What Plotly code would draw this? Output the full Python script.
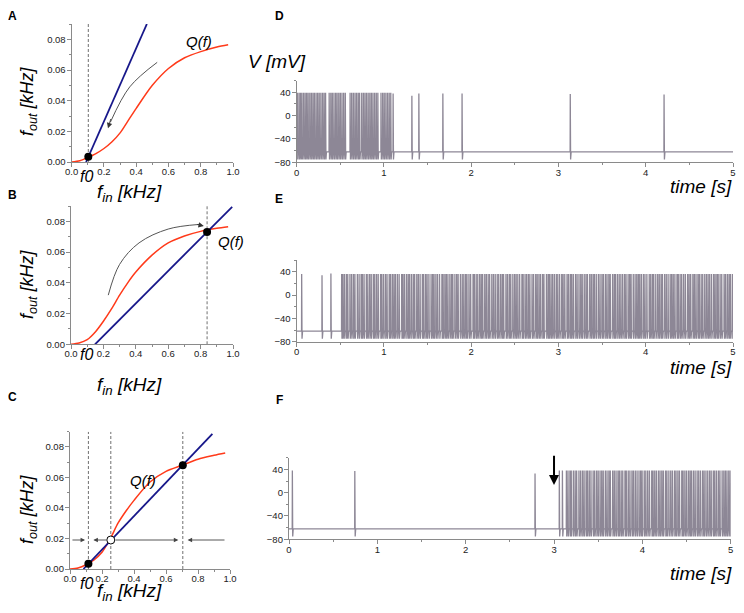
import numpy as np
import plotly.graph_objects as go

# ---- panels A-C : transfer curve Q(f) and the line f_out = k (f_in - f0)
f_in = [0.0, 0.05, 0.10, 0.15, 0.20, 0.25, 0.30, 0.35, 0.40, 0.50, 0.60, 0.70, 0.80, 0.90, 0.97]
q_a = [0.0, 0.0008, 0.003, 0.0055, 0.0088, 0.0132, 0.019, 0.027, 0.035, 0.050, 0.061, 0.068, 0.072, 0.075, 0.0765]
q_b = [0.0, 0.0008, 0.003, 0.008, 0.015, 0.023, 0.032, 0.040, 0.047, 0.058, 0.066, 0.0705, 0.0735, 0.0755, 0.0765]
q_c = [0.0, 0.0007, 0.0028, 0.006, 0.011, 0.0195, 0.030, 0.038, 0.045, 0.057, 0.064, 0.068, 0.072, 0.0745, 0.076]

line_a_x, line_a_y = [0.089, 0.466], [0.0, 0.09]
line_b_x, line_b_y = [0.148, 0.995], [0.0, 0.0895]
line_c_x, line_c_y = [0.084, 0.89], [0.0, 0.0885]

dash_a = [0.103]
dash_b = [0.84]
dash_c = [0.115, 0.255, 0.705]

stable_a_x, stable_a_y = [0.103], [0.0035]
stable_b_x, stable_b_y = [0.84], [0.073]
stable_c_x, stable_c_y = [0.115, 0.705], [0.0035, 0.068]
unstable_c_x, unstable_c_y = [0.255], [0.019]

# grey curved arrows (path points)
arrow_a_x, arrow_a_y = [0.53, 0.36, 0.24], [0.065, 0.049, 0.026]
arrow_b_x, arrow_b_y = [0.23, 0.30, 0.42, 0.60, 0.79], [0.032, 0.052, 0.066, 0.075, 0.078]

# ---- panels D-F : membrane potential traces (spike times in s)
v_rest, v_trough = -62, -75

d_burst = [0.008, 0.027, 0.044, 0.060, 0.079, 0.097, 0.114, 0.131, 0.150, 0.168,
           0.186, 0.203, 0.222, 0.240, 0.258, 0.277, 0.296, 0.314, 0.331,
           0.372, 0.391, 0.408, 0.427, 0.446, 0.463, 0.482, 0.500, 0.519, 0.538, 0.557,
           0.612, 0.630, 0.649, 0.668, 0.686, 0.705, 0.721,
           0.745, 0.764, 0.782, 0.800, 0.819, 0.838, 0.856, 0.874, 0.893, 0.912, 0.930,
           0.966, 0.985, 1.003, 1.022, 1.041, 1.060, 1.078]
d_burst_peak = 39
d_single = [1.105, 1.320, 1.400, 1.675, 1.895, 3.135, 4.210]
d_single_peak = [38, 34, 38, 38, 38, 37, 36]

e_single = [0.057, 0.290, 0.392]
e_single_peak = [36, 34, 37]
e_start = 0.515
e_dense_peak = 36
e_isi_ms = [14, 18, 22, 16, 25, 19, 21, 17, 28, 20,
            23, 15, 19, 26, 17, 21, 18, 24, 16, 21,
            19, 27, 14, 20, 22, 18, 25, 16, 21, 18,
            17, 22, 20, 29, 15, 18, 23, 19, 16, 21,
            21, 16, 24, 18, 20, 26, 15, 22, 17, 21,
            25, 18, 16, 21, 19, 23, 27, 14, 20, 17,
            18, 22, 19, 15, 24, 20, 17, 26, 21, 18,
            20, 16, 23, 19, 28, 15, 21, 18, 22, 18,
            16, 24, 18, 21, 17, 25, 19, 20, 23, 17,
            22, 19, 15, 27, 18, 21, 16, 24, 20, 18,
            19, 21, 26, 14, 22, 18, 20, 17, 25, 18,
            24, 17, 20, 18, 23, 16, 29, 19, 15, 19,
            18, 20, 22, 17, 21, 24, 16, 19, 26, 17,
            21, 15, 19, 25, 18, 22, 20, 17, 23, 20,
            17, 26, 18, 20, 16, 21, 24, 19, 22, 17,
            23, 18, 21, 16, 27, 19, 15, 22, 20, 19,
            20, 22, 17, 24, 18, 16, 25, 21, 19, 18,
            16, 19, 23, 18, 22, 27, 17, 20, 15, 23,
            22, 18, 20, 16, 25, 19, 21, 24, 17, 18,
            19, 24, 15, 21, 18, 22, 20, 26, 17, 18,
            25, 17, 19, 22, 16, 21, 18, 23, 20, 19,
            18, 21, 24, 17, 20, 15, 22, 19, 27, 17,
            21, 19, 16, 23, 18, 20, 24, 17, 22, 20]

f_single = [0.038, 0.745, 2.785]
f_single_peak = [38, 37, 33]
f_start = 3.06
f_dense_peak = 38
f_isi_ms = [35, 45,
            18, 22, 15, 24, 20, 17, 26, 19, 21, 18,
            23, 16, 20, 19, 25, 17, 22, 18, 21, 19,
            17, 24, 19, 21, 16, 27, 18, 20, 22, 16,
            20, 18, 25, 15, 22, 19, 23, 17, 21, 20,
            22, 19, 16, 24, 18, 21, 20, 26, 15, 19,
            19, 23, 18, 20, 17, 25, 16, 22, 21, 19,
            24, 17, 21, 18, 26, 15, 20, 19, 22, 18,
            16, 22, 19, 23, 18, 20, 24, 17, 21, 20,
            21, 18, 24, 16, 20, 22, 17, 25, 19, 18,
            18, 20, 17, 23, 21, 19, 26, 16, 22, 18]

# page body has an 8px margin; keep the figure inside the window (no scrollbars)
OFF = 8
W, H = 728, 597
FONT = 'Liberation Sans, Arial, sans-serif'
RED = '#ff3a1a'
BLUE = '#17178a'
TRACE = '#8d8796'
AXC = '#8a8a8a'


def px(x):
    return (x - OFF) / W


def py(y):
    return 1 - (y - OFF) / H


def build_trace(times, peaks):
    order = np.argsort(times)
    xs, ys = [0.0], [v_rest]
    for i in order:
        t = times[i]
        xs += [t - 0.0015, t, t + 0.004, t + 0.010]
        ys += [v_rest, peaks[i], v_trough, v_rest]
    xs.append(5.0)
    ys.append(v_rest)
    return xs, ys


def axis(domain, rng, dtick, minor, fmt, anchor, tick0=0, standoff=0):
    return dict(domain=domain, range=rng, anchor=anchor, showline=True,
                automargin=False, ticklabelstandoff=standoff, ticklabeloverflow='allow',
                linecolor=AXC, linewidth=1.3, ticks='outside', ticklen=4,
                tickcolor=AXC, tickwidth=1, tick0=tick0, dtick=dtick,
                tickformat=fmt, showgrid=False, zeroline=False,
                minor=dict(ticks='outside', ticklen=2, dtick=minor,
                           tick0=tick0, tickcolor=AXC, showgrid=False),
                tickfont=dict(size=9.5, color='#222', family=FONT))


fig = go.Figure()

# panels A-C
panels = [
    ('x', 'y', q_a, line_a_x, line_a_y, dash_a, stable_a_x, stable_a_y),
    ('x2', 'y2', q_b, line_b_x, line_b_y, dash_b, stable_b_x, stable_b_y),
    ('x3', 'y3', q_c, line_c_x, line_c_y, dash_c, stable_c_x, stable_c_y),
]
for xa, ya, q, lx, ly, dashes, sx, sy in panels:
    for d in dashes:
        fig.add_trace(go.Scatter(x=[d, d], y=[0, 0.09], xaxis=xa, yaxis=ya, mode='lines',
                                 line=dict(color='#707070', width=1, dash='3px,2px')))
    fig.add_trace(go.Scatter(x=f_in, y=q, xaxis=xa, yaxis=ya, mode='lines',
                             line=dict(color=RED, width=1.5, shape='spline', smoothing=0.8)))
    fig.add_trace(go.Scatter(x=lx, y=ly, xaxis=xa, yaxis=ya, mode='lines',
                             line=dict(color=BLUE, width=1.8)))
    fig.add_trace(go.Scatter(x=sx, y=sy, xaxis=xa, yaxis=ya, mode='markers',
                             marker=dict(color='black', size=8), cliponaxis=False))

fig.add_trace(go.Scatter(x=unstable_c_x, y=unstable_c_y, xaxis='x3', yaxis='y3', mode='markers',
                         marker=dict(color='white', size=8, line=dict(color='black', width=1))))

fig.add_trace(go.Scatter(x=arrow_a_x, y=arrow_a_y, xaxis='x', yaxis='y', mode='lines',
                         line=dict(color='#555', width=1, shape='spline')))
fig.add_trace(go.Scatter(x=arrow_b_x, y=arrow_b_y, xaxis='x2', yaxis='y2', mode='lines',
                         line=dict(color='#555', width=1, shape='spline')))

# panels D-F
d_x, d_y = build_trace(d_burst + d_single, [d_burst_peak] * len(d_burst) + d_single_peak)
e_dense = list(e_start + np.concatenate([[0], np.cumsum(e_isi_ms)]) / 1000.0)
e_x, e_y = build_trace(e_single + e_dense, e_single_peak + [e_dense_peak] * len(e_dense))
f_dense = list(f_start + np.concatenate([[0], np.cumsum(f_isi_ms)]) / 1000.0)
f_x, f_y = build_trace(f_single + f_dense, f_single_peak + [f_dense_peak] * len(f_dense))

for xa, ya, tx, ty in [('x4', 'y4', d_x, d_y), ('x5', 'y5', e_x, e_y), ('x6', 'y6', f_x, f_y)]:
    fig.add_trace(go.Scatter(x=tx, y=ty, xaxis=xa, yaxis=ya, mode='lines',
                             line=dict(color=TRACE, width=1.3)))

layout = dict(width=W, height=H, margin=dict(l=0, r=0, t=0, b=0, autoexpand=False),
              paper_bgcolor='white', plot_bgcolor='white', showlegend=False)

f_dom = {
    '': ([px(71.7), px(233)], [py(162), py(24)]),
    '2': ([px(71), px(233)], [py(344.3), py(206)]),
    '3': ([px(70), px(230)], [py(569), py(431.7)]),
}
for k, (xd, yd) in f_dom.items():
    layout['xaxis' + k] = axis(xd, [0, 1.0], 0.2, 0.1, '.1f', 'y' + k, standoff=-4)
    layout['yaxis' + k] = axis(yd, [0, 0.09], 0.02, 0.01, '.2f', 'x' + k, standoff=-1)

t_dom = {
    '4': ([px(296.7), px(733)], [py(162.3), py(80.6)]),
    '5': ([px(296.7), px(733)], [py(341.7), py(260)]),
    '6': ([px(289), px(730.7)], [py(539.3), py(457.7)]),
}
for k, (xd, yd) in t_dom.items():
    layout['xaxis' + k] = axis(xd, [0, 5], 1, 0.5, 'd', 'y' + k, standoff=-3)
    layout['yaxis' + k] = axis(yd, [-80, 60], 40, 20, 'd', 'x' + k, tick0=-80, standoff=-1)

fig.update_layout(layout)


def label(x, y, text, size, angle=0):
    fig.add_annotation(x=px(x), y=py(y), xref='paper', yref='paper', text=text,
                       showarrow=False, textangle=angle, xanchor='center', yanchor='middle',
                       font=dict(size=size, color='black', family=FONT))


for lx_, ly_, t in [(12, 16, 'A'), (12, 195, 'B'), (12, 397, 'C'),
                    (279, 16, 'D'), (279, 199, 'E'), (279, 400, 'F')]:
    label(lx_, ly_, '<b>' + t + '</b>', 12)

fout = '<i>f</i><sub><i>out</i></sub><i> [kHz]</i>'
fin = '<i>f</i><sub><i>in</i></sub><i> [kHz]</i>'
for cy in [101, 284, 509]:
    label(28, cy, fout, 18, angle=-90)
for cy in [193, 386, 592]:
    label(130, cy, fin, 19)
for cy in [176, 354, 583]:
    label(86, cy, '<i>f0</i>', 16)
label(199, 42, '<i>Q(f)</i>', 15)
label(231, 242, '<i>Q(f)</i>', 15)
label(143, 480, '<i>Q(f)</i>', 15)
label(277, 62, '<i>V [mV]</i>', 19)
for cy in [187, 367, 573]:
    label(701, cy, '<i>time [s]</i>', 19)


# arrowheads / arrows
def arrow(xa, ya, x0, y0, x1, y1, color='#444', width=0.9, head=2, size=1.0):
    fig.add_annotation(x=x1, y=y1, ax=x0, ay=y0, xref=xa, yref=ya, axref=xa, ayref=ya,
                       text='', showarrow=True, arrowhead=head, arrowsize=size,
                       arrowwidth=width, arrowcolor=color, standoff=0)


arrow('x', 'y', 0.245, 0.029, 0.225, 0.022, color='#333', size=1.2)
arrow('x2', 'y2', 0.77, 0.0782, 0.82, 0.077, color='#333', size=1.2)
arrow('x3', 'y3', 0.006, 0.019, 0.094, 0.019)
arrow('x3', 'y3', 0.235, 0.019, 0.146, 0.019)
arrow('x3', 'y3', 0.275, 0.019, 0.677, 0.019)
arrow('x3', 'y3', 0.975, 0.019, 0.735, 0.019)
arrow('x6', 'y6', 3.0, 66, 3.0, 13, color='black', width=2, head=2, size=1.0)

fig.write_html("out.html")
